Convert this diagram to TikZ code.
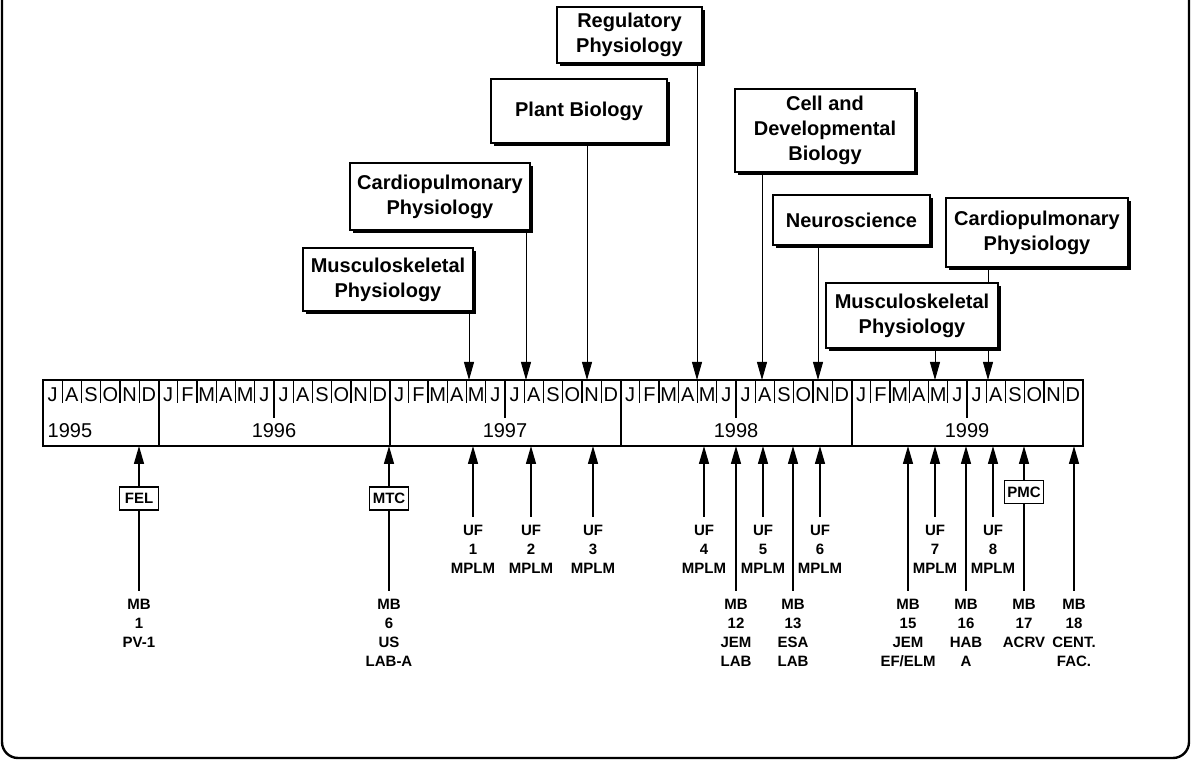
\documentclass[tikz,border=0pt]{standalone}
\usepackage{fontspec}
\setmainfont{Liberation Sans}
\usetikzlibrary{arrows.meta,shadows,backgrounds}

\begin{document}
\begin{tikzpicture}[
  x=0.5pt, y=-0.5pt, >={Triangle[length=9pt,width=5pt]}, line width=0.7pt,
  topic/.style={draw, fill=white, line width=1pt, align=center, inner sep=1pt,
    font=\fontsize{10}{12.5}\selectfont\bfseries,
    drop shadow={shadow xshift=1.5pt, shadow yshift=-1.5pt, fill=black, opacity=1}},
  tag/.style={draw, fill=white, line width=0.9pt, inner sep=0.5pt,
    font=\fontsize{7.5}{8}\selectfont\bfseries, minimum width=19.5pt, minimum height=11.5pt},
  lbl/.style={anchor=north, align=center, inner xsep=0pt, inner ysep=3.5pt,
    font=\fontsize{7.5}{9.5}\selectfont\bfseries},
  mon/.style={inner sep=0pt, font=\fontsize{10}{12}\selectfont},
]
\useasboundingbox (0,0) rectangle (1200,763);
\clip (0,0) rectangle (1200,763);
\draw[line width=1.2pt, rounded corners=8pt] (2,-20) rectangle (1189,758);

% time bar, one cell per month from Jul 1995
\draw[line width=1pt] (43,380) rectangle (1082.5,446);
\coordinate (barS) at (43,446);
\foreach \i in {1,...,53} \draw (43+19.25*\i,380) -- ++(0,23);
\foreach \i in {12,24,36,48} \draw (43+19.25*\i,380) -- ++(0,38);
\foreach \i in {6,18,30,42} \draw[line width=1pt] (43+19.25*\i,380) -- (43+19.25*\i,446);
\foreach \m [count=\i from 0] in {J,A,S,O,N,D}
  \node[mon] (m95-\i) at ({43+19.25*\i+9.625},395) {\m};
\foreach \yr in {96,97,98,99}
  \foreach \m [count=\i from 0] in {J,F,M,A,M,J,J,A,S,O,N,D}
    \node[mon] (m\yr-\i) at ({43+19.25*(\i+6+12*(\yr-96))+9.625},395) {\m};
\node[mon, anchor=west] (y1995) at (47,431) {1995};
\foreach \yr [count=\k] in {1996,1997,1998,1999}
  \node[mon] (y\yr) at ({43+19.25*12*\k},431) {\yr};

% arrow targets on the top of the bar
\coordinate (a97may) at (469,380);
\coordinate (a97jul) at (526,380);
\coordinate (a97oct) at (587,380);
\coordinate (a98apr) at (697,380);
\coordinate (a98aug) at (762,380);
\coordinate (a98oct) at (818,380);
\coordinate (a99apr) at (935,380);
\coordinate (a99jul) at (988,380);

% disciplines
\node[topic, minimum width=72.5pt, minimum height=28pt] (regphys) at (629.5,35) {Regulatory\\Physiology};
\node[topic, minimum width=88pt, minimum height=32pt] (plant) at (579,111) {Plant Biology};
\node[topic, minimum width=90pt, minimum height=41.5pt] (celldev) at (825,130.5) {Cell and\\Developmental\\Biology};
\node[topic, minimum width=90pt, minimum height=33.5pt] (cardioA) at (440,196.5) {Cardiopulmonary\\Physiology};
\node[topic, minimum width=78.5pt, minimum height=25pt] (neuro) at (851.5,220) {Neuroscience};
\node[topic, minimum width=91pt, minimum height=34.5pt] (cardioB) at (1037,232.5) {Cardiopulmonary\\Physiology};
\node[topic, minimum width=85pt, minimum height=31.5pt] (muscA) at (388,279.5) {Musculoskeletal\\Physiology};
\node[topic, minimum width=86pt, minimum height=32.5pt] (muscB) at (912,315.5) {Musculoskeletal\\Physiology};

\begin{scope}[on background layer]
\draw[->] (muscA.south -| a97may) -- (a97may);
\draw[->] (cardioA.south -| a97jul) -- (a97jul);
\draw[->] (plant.south -| a97oct) -- (a97oct);
\draw[->] (regphys.south -| a98apr) -- (a98apr);
\draw[->] (celldev.south -| a98aug) -- (a98aug);
\draw[->] (neuro.south -| a98oct) -- (a98oct);
\draw[->] (muscB.south -| a99apr) -- (a99apr);
\draw[->] (cardioB.south -| a99jul) -- (a99jul);
\end{scope}

% flights below the bar
\foreach \n/\x in {1/473,2/531,3/593,4/704,5/763,6/820,7/935,8/993} {
  \node[lbl] (uf\n) at (\x,517) {UF\\\n\\MPLM};
  \draw[->] (uf\n.north) -- (uf\n.north |- barS);
}
\node[lbl] (mb1) at (139,591) {MB\\1\\PV-1};
\node[tag] (fel) at (139,498.5) {FEL};
\draw (mb1.north) -- (fel.south);
\draw[->] (fel.north) -- (fel.north |- barS);
\node[lbl] (mb6) at (389,591) {MB\\6\\US\\LAB-A};
\node[tag] (mtc) at (389,498.5) {MTC};
\draw (mb6.north) -- (mtc.south);
\draw[->] (mtc.north) -- (mtc.north |- barS);
\node[lbl] (mb12) at (736,591) {MB\\12\\JEM\\LAB};
\draw[->] (mb12.north) -- (mb12.north |- barS);
\node[lbl] (mb13) at (793,591) {MB\\13\\ESA\\LAB};
\draw[->] (mb13.north) -- (mb13.north |- barS);
\node[lbl] (mb15) at (908,591) {MB\\15\\JEM\\EF/ELM};
\draw[->] (mb15.north) -- (mb15.north |- barS);
\node[lbl] (mb16) at (966,591) {MB\\16\\HAB\\A};
\draw[->] (mb16.north) -- (mb16.north |- barS);
\node[lbl] (mb17) at (1024,591) {MB\\17\\ACRV};
\node[tag] (pmc) at (1024,492) {PMC};
\draw (mb17.north) -- (pmc.south);
\draw[->] (pmc.north) -- (pmc.north |- barS);
\node[lbl] (mb18) at (1074,591) {MB\\18\\CENT.\\FAC.};
\draw[->] (mb18.north) -- (mb18.north |- barS);
\end{tikzpicture}
\end{document}
